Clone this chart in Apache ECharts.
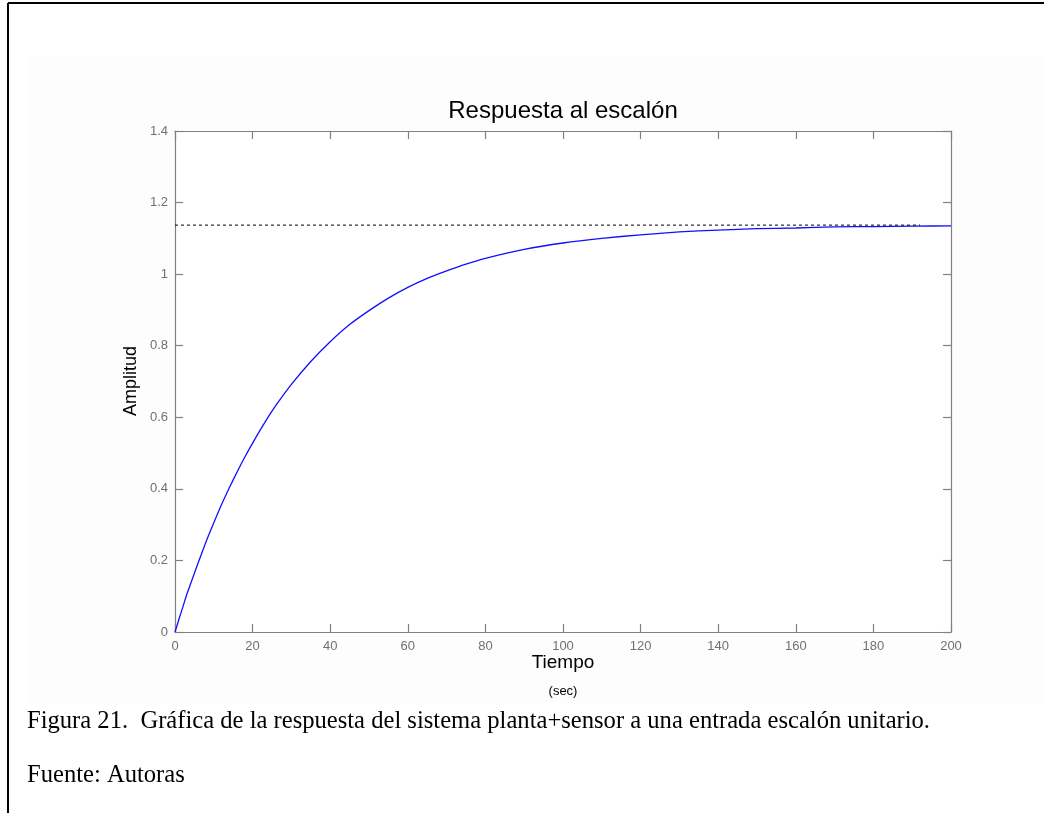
<!DOCTYPE html>
<html>
<head>
<meta charset="utf-8">
<title>Respuesta al escalón</title>
<script src="https://cdn.jsdelivr.net/npm/echarts@6/dist/echarts.min.js"></script>
<style>
  html, body { margin: 0; padding: 0; background: #ffffff; }
  #chart { width: 1044px; height: 813px; }
</style>
</head>
<body>
<div id="chart"></div>
<script>
// Step response of the plant+sensor system (time in seconds, amplitude)
const timeSec = [0, 1, 2, 3, 4, 6, 8, 10, 12, 14, 16, 18, 20, 23, 26, 30, 35, 40, 45, 50,
  55, 60, 65, 70, 75, 80, 90, 100, 110, 120, 130, 140, 150, 160, 170, 180, 190, 200];
const amplitude = [0, 0.035, 0.069, 0.104, 0.134, 0.194, 0.252, 0.305, 0.356, 0.403, 0.447,
  0.489, 0.528, 0.583, 0.633, 0.692, 0.756, 0.811, 0.859, 0.898, 0.933, 0.963, 0.988, 1.009,
  1.028, 1.044, 1.069, 1.087, 1.100, 1.110, 1.118, 1.123, 1.127, 1.129, 1.132, 1.133, 1.134, 1.135];

// Steady-state reference (dotted line)
const steadyTime = [0, 192];
const steadyLevel = [1.137, 1.137];

// Axis ranges and tick labels
const xTickLabels = ['0', '20', '40', '60', '80', '100', '120', '140', '160', '180', '200'];
const yTickLabels = ['0', '0.2', '0.4', '0.6', '0.8', '1', '1.2', '1.4'];

const titleText = 'Respuesta al escalón';
const xName = 'Tiempo';
const xUnit = '(sec)';
const yName = 'Amplitud';
const captionText = 'Figura 21.\u00a0\u00a0Gráfica de la respuesta del sistema planta+sensor a una entrada escalón unitario.';
const sourceText = 'Fuente: Autoras';

const AXIS_GRAY = '#808080';
const LABEL_FONT = 'Arial, "Liberation Sans", Helvetica, sans-serif';
const CAPTION_FONT = '24.6px "Liberation Serif", "Times New Roman", serif';

const chart = echarts.init(document.getElementById('chart'), null, { renderer: 'canvas' });

const xMax = Number(xTickLabels[xTickLabels.length - 1]);
const xStep = Number(xTickLabels[1]) - Number(xTickLabels[0]);
const yMax = Number(yTickLabels[yTickLabels.length - 1]);
const yStep = Number(yTickLabels[1]) - Number(yTickLabels[0]);

function valueAxis(pos, max, step, showLabel, isX) {
  return {
    type: 'value',
    position: pos,
    min: 0,
    max: max,
    interval: step,
    axisLine: { show: true, onZero: false, lineStyle: { color: AXIS_GRAY, width: 1.2 } },
    axisTick: { show: true, inside: true, length: 8, lineStyle: { color: AXIS_GRAY, width: 1.2 } },
    axisLabel: {
      show: showLabel,
      color: '#707070',
      fontSize: 13,
      fontFamily: LABEL_FONT,
      margin: isX ? 8 : 7,
      formatter: function (v) {
        const list = isX ? xTickLabels : yTickLabels;
        const idx = Math.round(v / step);
        return list[idx] !== undefined ? list[idx] : String(v);
      }
    },
    splitLine: { show: false }
  };
}

const option = {
  backgroundColor: '#ffffff',
  animation: false,
  grid: {
    left: 175, top: 131, width: 776, height: 501,
    show: true, backgroundColor: '#ffffff', borderWidth: 0,
    outerBoundsMode: 'none'
  },
  xAxis: [
    valueAxis('bottom', xMax, xStep, true, true),
    valueAxis('top', xMax, xStep, false, true)
  ],
  yAxis: [
    valueAxis('left', yMax, yStep, true, false),
    valueAxis('right', yMax, yStep, false, false)
  ],
  series: [
    {
      type: 'line',
      xAxisIndex: 0,
      yAxisIndex: 0,
      data: timeSec.map((t, i) => [t, amplitude[i]]),
      showSymbol: false,
      smooth: 0.2,
      lineStyle: { color: '#1010ff', width: 1.3 },
      z: 3
    },
    {
      type: 'line',
      xAxisIndex: 0,
      yAxisIndex: 0,
      data: steadyTime.map((t, i) => [t, steadyLevel[i]]),
      showSymbol: false,
      lineStyle: { color: '#000000', width: 1, type: [3, 3] },
      z: 4
    }
  ],
  graphic: [
    // figure background
    { type: 'rect', z: -10, silent: true,
      shape: { x: 27, y: 56, width: 1017, height: 647 },
      style: { fill: '#fdfdfd' } },
    // page frame
    { type: 'line', z: 10, silent: true,
      shape: { x1: 8, y1: 3, x2: 1044, y2: 3 },
      style: { stroke: '#000000', lineWidth: 2 } },
    { type: 'line', z: 10, silent: true,
      shape: { x1: 8, y1: 3, x2: 8, y2: 813 },
      style: { stroke: '#000000', lineWidth: 2 } },
    // plot title
    { type: 'text', z: 10, silent: true,
      style: { x: 563, y: 111, text: titleText, fill: '#000000',
        font: '24px ' + LABEL_FONT, align: 'center', verticalAlign: 'middle' } },
    // axis names
    { type: 'text', z: 10, silent: true,
      style: { x: 563, y: 663, text: xName, fill: '#000000',
        font: '19px ' + LABEL_FONT, align: 'center', verticalAlign: 'middle' } },
    { type: 'text', z: 10, silent: true,
      style: { x: 563, y: 691, text: xUnit, fill: '#000000',
        font: '13px ' + LABEL_FONT, align: 'center', verticalAlign: 'middle' } },
    { type: 'text', z: 10, silent: true,
      x: 131, y: 381, rotation: Math.PI / 2,
      style: { x: 0, y: 0, text: yName, fill: '#000000',
        font: '18px ' + LABEL_FONT, align: 'center', verticalAlign: 'middle' } },
    // caption
    { type: 'text', z: 10, silent: true,
      style: { x: 27, y: 722, text: captionText, fill: '#000000',
        font: CAPTION_FONT, align: 'left', verticalAlign: 'middle' } },
    { type: 'text', z: 10, silent: true,
      style: { x: 27, y: 776, text: sourceText, fill: '#000000',
        font: CAPTION_FONT, align: 'left', verticalAlign: 'middle' } }
  ]
};

chart.setOption(option);
</script>
</body>
</html>
